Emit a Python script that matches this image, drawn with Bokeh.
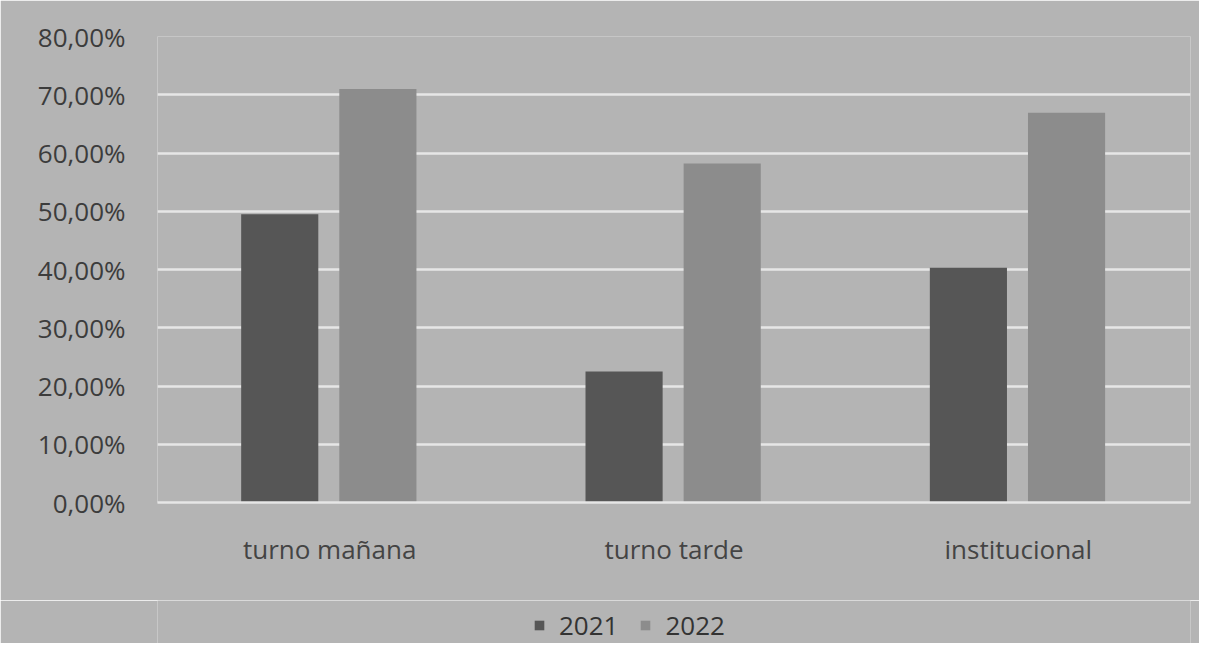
from bokeh.plotting import figure
from bokeh.layouts import column
from bokeh.models import (ColumnDataSource, FactorRange, Range1d, Legend, LegendItem,
                          CustomJSTickFormatter, FixedTicker)
from bokeh.transform import dodge
from bokeh.embed import file_html
from bokeh.resources import INLINE

categories = ["turno mañana", "turno tarde", "institucional"]
series = ["2021", "2022"]
values_2021 = [49.5, 22.5, 40.3]
values_2022 = [71.0, 58.2, 66.9]
y_ticks = [0, 10, 20, 30, 40, 50, 60, 70, 80]

colors = {"2021": "#565656", "2022": "#8c8c8c"}
FONT = "Open Sans"
BG = "#b4b4b4"

src = ColumnDataSource(dict(cat=categories, v2021=values_2021, v2022=values_2022))

p = figure(x_range=FactorRange(*categories, range_padding=0), y_range=Range1d(0, 80),
           width=1199, height=600, output_backend="svg", toolbar_location=None,
           min_border_left=157, min_border_right=9, min_border_top=36, min_border_bottom=98)

p.background_fill_color = BG
p.border_fill_color = BG
p.outline_line_color = None

r1 = p.vbar(x=dodge("cat", -0.145, range=p.x_range), top="v2021", width=0.224, source=src,
            fill_color=colors["2021"], line_color=None)
r2 = p.vbar(x=dodge("cat", 0.14, range=p.x_range), top="v2022", width=0.224, source=src,
            fill_color=colors["2022"], line_color=None)

p.ygrid.ticker = FixedTicker(ticks=y_ticks)
p.ygrid.grid_line_color = "#e6e6e6"
p.ygrid.grid_line_width = 2.5
p.xgrid.grid_line_color = None

p.yaxis.ticker = FixedTicker(ticks=y_ticks)
p.yaxis.formatter = CustomJSTickFormatter(code="return tick.toFixed(2).replace('.', ',') + '%';")
p.yaxis.axis_line_color = None
p.yaxis.major_tick_line_color = None
p.yaxis.minor_tick_line_color = None
p.yaxis.major_label_text_font = FONT
p.yaxis.major_label_text_font_size = "26px"
p.yaxis.major_label_text_color = "#3c3c3c"
p.yaxis.major_label_standoff = 26

p.xaxis.axis_line_color = "#e6e6e6"
p.xaxis.axis_line_width = 2.5
p.xaxis.major_tick_line_color = None
p.xaxis.minor_tick_line_color = None
p.xaxis.major_label_text_font = FONT
p.xaxis.major_label_text_font_size = "26px"
p.xaxis.major_label_text_color = "#444444"
p.xaxis.major_label_standoff = 22

# legend strip below the chart (zero-height proxy bars carry the legend swatches)
lg = figure(width=1199, height=43, output_backend="svg", toolbar_location=None,
            x_axis_location=None, y_axis_location=None, x_range=Range1d(0, 1), y_range=Range1d(0, 1),
            min_border=0)
lg.background_fill_color = BG
lg.border_fill_color = BG
lg.outline_line_color = None
lg.grid.visible = False
proxy = ColumnDataSource(dict(x=[0.5], top=[0]))
g1 = lg.vbar(x="x", top="top", bottom=0, width=0.0, source=proxy,
             fill_color=colors["2021"], line_color=None)
g2 = lg.vbar(x="x", top="top", bottom=0, width=0.0, source=proxy,
             fill_color=colors["2022"], line_color=None)

legend = Legend(items=[LegendItem(label=series[0], renderers=[g1]),
                       LegendItem(label=series[1], renderers=[g2])],
                orientation="horizontal", location=(376, 0),
                background_fill_alpha=0, border_line_color=None,
                label_text_font=FONT, label_text_font_size="26px", label_text_color="#333333",
                glyph_width=12, glyph_height=12, label_standoff=14, spacing=21, padding=0, margin=0)
lg.add_layout(legend, "center")

layout = column(p, lg, spacing=0)
open("out.html", "w").write(file_html(layout, INLINE))
